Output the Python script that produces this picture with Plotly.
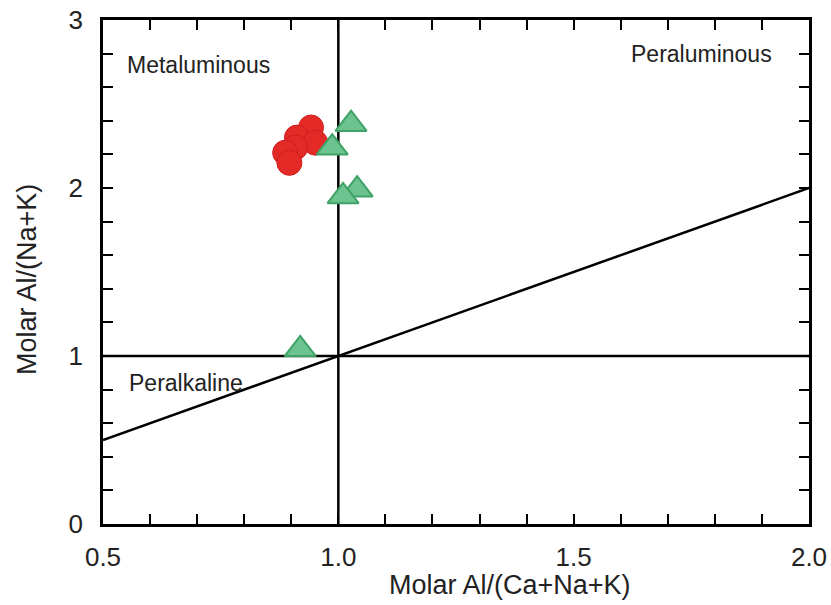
import plotly.graph_objects as go

# Sample compositions (molar ratios)
circle_acnk = [0.942, 0.912, 0.951, 0.908, 0.887, 0.896]
circle_ank = [2.36, 2.30, 2.27, 2.24, 2.21, 2.15]
triangle_acnk = [1.027, 0.987, 1.040, 1.010, 0.919]
triangle_ank = [2.38, 2.24, 1.99, 1.95, 1.04]

# Field boundaries
boundary_vertical = ([1.0, 1.0], [0.0, 3.0])
boundary_horizontal = ([0.5, 2.0], [1.0, 1.0])
boundary_diagonal = ([0.5, 2.0], [0.5, 2.0])

x_range = [0.5, 2.0]
y_range = [0, 3]

field_labels = ["Metaluminous", "Peraluminous", "Peralkaline"]
x_title = "Molar Al/(Ca+Na+K)"
y_title = "Molar Al/(Na+K)"

FONT = "Liberation Sans, Arial, Helvetica, sans-serif"
TEXT = "#222"

fig = go.Figure()

for bx, by in (boundary_vertical, boundary_horizontal, boundary_diagonal):
    fig.add_trace(go.Scatter(x=bx, y=by, mode="lines",
                             line=dict(color="black", width=2.5),
                             hoverinfo="skip", showlegend=False))

fig.add_trace(go.Scatter(
    x=circle_acnk, y=circle_ank, mode="markers", showlegend=False,
    marker=dict(symbol="circle", size=25, color="#e42a26",
                line=dict(color="#d01f1f", width=1)),
))
fig.add_trace(go.Scatter(
    x=triangle_acnk, y=triangle_ank, mode="markers", showlegend=False,
    marker=dict(symbol="triangle-up", size=27, color="#6cc390",
                line=dict(color="#3fa266", width=2)),
))

ann_font = dict(family=FONT, size=23, color=TEXT)
fig.add_annotation(x=0.547, y=2.73, text=field_labels[0], showarrow=False,
                   xanchor="left", yanchor="middle", font=ann_font)
fig.add_annotation(x=1.925, y=2.80, text=field_labels[1], showarrow=False,
                   xanchor="right", yanchor="middle", font=ann_font)
fig.add_annotation(x=0.552, y=0.84, text=field_labels[2], showarrow=False,
                   xanchor="left", yanchor="middle", font=ann_font)

# Axis titles placed relative to the plot frame
title_font = dict(family=FONT, size=27, color=TEXT)
fig.add_annotation(x=0.576, y=0, xref="paper", yref="paper", text=x_title,
                   showarrow=False, xanchor="center", yanchor="middle",
                   yshift=-61, font=title_font)
fig.add_annotation(x=0, y=0.484, xref="paper", yref="paper", text=y_title,
                   showarrow=False, xanchor="center", yanchor="middle",
                   textangle=-90, xshift=-76, font=title_font)

axis_common = dict(
    showgrid=False, zeroline=False, showline=True, linecolor="black",
    linewidth=2.5, mirror="ticks", ticks="inside", ticklen=10, tickwidth=2,
    tickcolor="black", tickfont=dict(family=FONT, size=26, color=TEXT),
    automargin=False, ticklabeloverflow="allow",
)

fig.update_xaxes(
    range=x_range, dtick=0.5, tick0=0.5, tickformat=".1f",
    minor=dict(dtick=0.1, ticks="inside", ticklen=10, tickwidth=2,
               tickcolor="black", showgrid=False),
    ticklabelstandoff=8,
    **axis_common,
)
fig.update_yaxes(
    range=y_range, dtick=1, tick0=0,
    minor=dict(dtick=0.2, ticks="inside", ticklen=10, tickwidth=2,
               tickcolor="black", showgrid=False),
    ticklabelstandoff=12,
    **axis_common,
)

fig.update_layout(
    width=831, height=605,
    margin=dict(l=103, r=22, t=20, b=81),
    plot_bgcolor="white", paper_bgcolor="white",
    font=dict(family=FONT),
)

fig.write_html("out.html")
